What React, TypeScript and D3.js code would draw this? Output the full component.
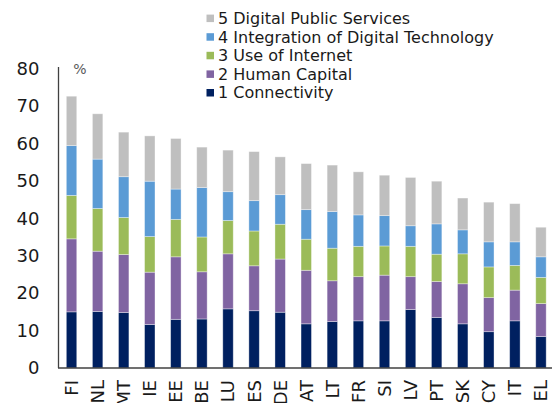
import React from "react";
import * as d3 from "d3";

const categories = ["FI","NL","MT","IE","EE","BE","LU","ES","DE","AT","LT","FR","SI","LV","PT","SK","CY","IT","EL"];
const connectivity = [15.0,15.1,14.8,11.6,13.0,13.1,15.8,15.3,14.9,11.8,12.4,12.6,12.6,15.6,13.5,11.8,9.7,12.6,8.4];
const humanCapital = [19.5,16.1,15.5,14.0,16.7,12.6,14.7,12.0,14.2,14.3,10.9,11.8,12.2,8.8,9.6,10.7,9.1,8.2,8.8];
const useOfInternet = [11.6,11.4,9.9,9.5,10.0,9.3,8.9,9.3,9.3,8.3,8.7,8.1,7.8,8.1,7.3,8.0,8.2,6.6,7.0];
const integration = [13.3,13.2,10.9,14.8,8.1,13.2,7.7,8.1,7.9,7.9,9.8,8.4,8.1,5.5,8.1,6.4,6.7,6.3,5.5];
const publicServices = [13.2,12.1,11.9,12.1,13.5,10.8,11.1,13.1,10.1,12.3,12.4,11.5,10.8,12.9,11.4,8.5,10.6,10.2,7.9];
const yTicks = [0,10,20,30,40,50,60,70,80];

const seriesNames = ["1 Connectivity","2 Human Capital","3 Use of Internet","4 Integration of Digital Technology","5 Digital Public Services"];
const seriesData = [connectivity, humanCapital, useOfInternet, integration, publicServices];
const colors = ["#002060","#8064A2","#9BBB59","#5B9BD5","#BFBFBF"];

const FONT = "'DejaVu Sans', Verdana, sans-serif";

export default function App() {
  const width = 552, height = 403;
  const x = d3.scaleBand().domain(categories).range([58.5, 554]).paddingInner(0.6).paddingOuter(0.3);
  const y = d3.scaleLinear().domain([0, 80]).range([368, 68.5]);

  const table = categories.map((c, i) => {
    const row: any = { cat: c };
    seriesNames.forEach((s, k) => { row[s] = seriesData[k][i]; });
    return row;
  });
  const stack = d3.stack().keys(seriesNames)(table as any);

  const legendOrder = [4, 3, 2, 1, 0];

  return (
    <svg width={width} height={height} style={{ position: "absolute", left: 0, top: 0, background: "#fff" }} fontFamily={FONT}>
      {stack.map((layer, k) => (
        <g key={k} fill={colors[k]}>
          {layer.map((d, i) => (
            <rect key={i}
              x={x(categories[i])!}
              width={x.bandwidth()}
              y={y(d[1])}
              height={y(d[0]) - y(d[1])}
              stroke="#ffffff" strokeOpacity={0.45} strokeWidth={0.8} />
          ))}
        </g>
      ))}
      <line x1={58.5} x2={58.5} y1={67} y2={368} stroke="#404040" strokeWidth={1.3} />
      <line x1={58} x2={552} y1={368} y2={368} stroke="#404040" strokeWidth={1.3} />
      {yTicks.map(t => (
        <text key={t} x={39.5} y={y(t)} dy="0.35em" textAnchor="end" fontSize={18} fill="#1a1a1a">{t}</text>
      ))}
      <text x={80} y={69} dy="0.35em" textAnchor="middle" fontSize={14} fill="#595959">%</text>
      {categories.map(c => {
        const cx = x(c)! + x.bandwidth() / 2;
        return (
          <text key={c} transform={`translate(${cx},380) rotate(-90)`} dy="0.36em" textAnchor="end" fontSize={18} fill="#1a1a1a">{c}</text>
        );
      })}
      {legendOrder.map((k, j) => {
        const ly = 18.3 + j * 18.6;
        return (
          <g key={k}>
            <rect x={206.5} y={ly - 3.7} width={7.5} height={7.5} fill={colors[k]} />
            <text x={218} y={ly} dy="0.35em" fontSize={16} fill="#1a1a1a">{seriesNames[k]}</text>
          </g>
        );
      })}
    </svg>
  );
}
